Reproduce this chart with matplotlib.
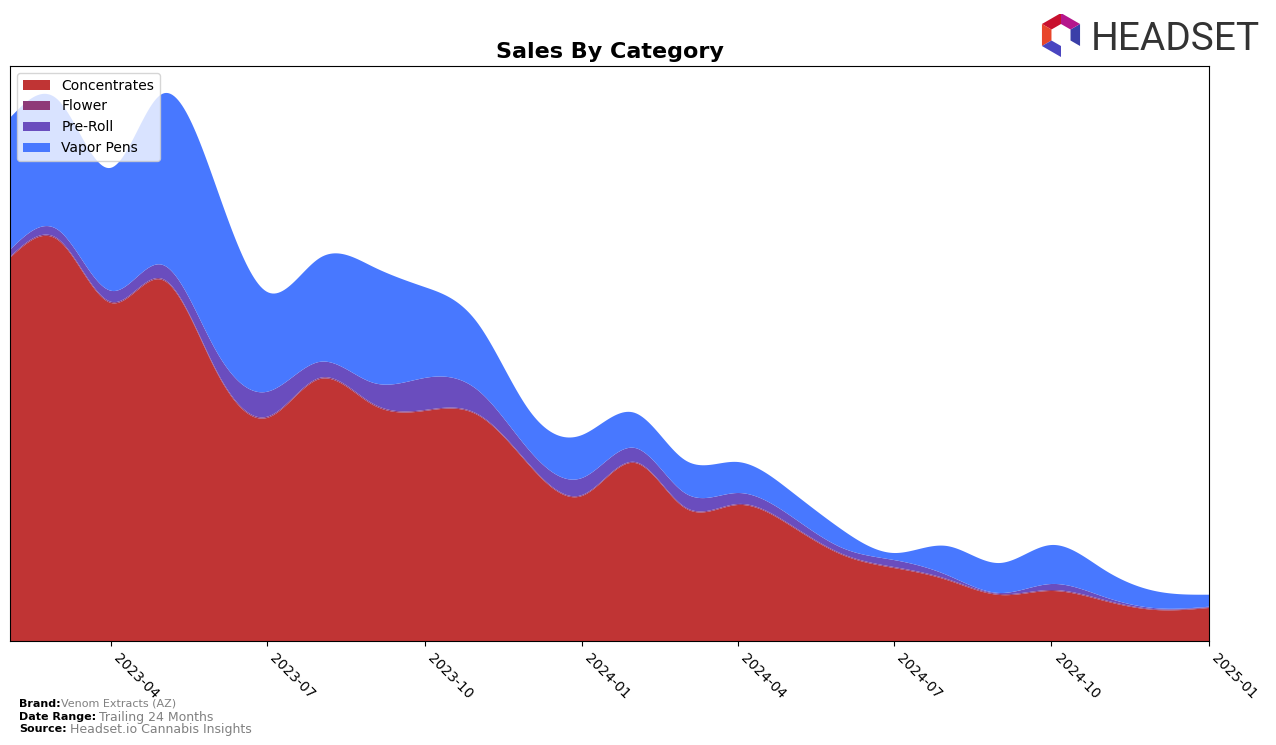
import numpy as np
import pandas as pd
import matplotlib
matplotlib.use("Agg")
import matplotlib.pyplot as plt
import matplotlib.dates as mdates
from matplotlib.patches import Polygon

months = pd.date_range("2023-02-01", "2025-01-01", freq="MS")
categories = ["Concentrates", "Flower", "Pre-Roll", "Vapor Pens"]
concentrates = [383, 401, 338, 361, 271, 223, 262, 236, 230, 226, 176, 145,
                178, 133, 136, 116, 86, 73, 61, 46, 50, 40, 31, 33]
flower = [1.2, 1.2, 1.2, 1.2, 1.2, 1.2, 1.2, 1.2, 1.0, 1.0, 1.0, 1.0,
          1.0, 1.0, 1.0, 1.0, 1.0, 1.0, 1.0, 1.0, 1.0, 1.0, 0.8, 0.8]
preroll = [7, 9, 11, 14, 19, 25, 16, 21, 32, 24, 14, 17,
           14, 14, 11, 9, 6, 7, 4, 1, 6, 3, 1, 0.5]
vapor = [132, 130, 123, 171, 165, 100, 104, 116, 91, 67, 40, 43,
         35, 33, 31, 25, 18, 7, 29, 30, 39, 27, 17, 12]
colors = ["#C03434", "#8E3A78", "#6A4DBE", "#4878FF"]
xtick_labels = ["2023-04", "2023-07", "2023-10", "2024-01", "2024-04",
                "2024-07", "2024-10", "2025-01"]


def natural_spline(x, y, xs):
    x = np.asarray(x, float)
    y = np.asarray(y, float)
    n = len(x)
    h = np.diff(x)
    A = np.zeros((n, n))
    b = np.zeros(n)
    A[0, 0] = 1
    A[-1, -1] = 1
    for i in range(1, n - 1):
        A[i, i - 1] = h[i - 1]
        A[i, i] = 2 * (h[i - 1] + h[i])
        A[i, i + 1] = h[i]
        b[i] = 3 * ((y[i + 1] - y[i]) / h[i] - (y[i] - y[i - 1]) / h[i - 1])
    c = np.linalg.solve(A, b)
    bb = (y[1:] - y[:-1]) / h - h * (2 * c[:-1] + c[1:]) / 3
    d = (c[1:] - c[:-1]) / (3 * h)
    idx = np.clip(np.searchsorted(x, xs) - 1, 0, n - 2)
    dx = xs - x[idx]
    return y[idx] + bb[idx] * dx + c[idx] * dx ** 2 + d[idx] * dx ** 3


xnum = mdates.date2num(months)
xs = np.linspace(xnum[0], xnum[-1], 600)
series = [concentrates, flower, preroll, vapor]
smooth = [np.clip(natural_spline(xnum, s, xs), 0, None) for s in series]

fig = plt.figure(figsize=(12.76, 7.45), dpi=100)
ax = fig.add_axes([10 / 1276, 1 - 641 / 745, (1209 - 10) / 1276, (641 - 66) / 745])
ax.stackplot(mdates.num2date(xs), *smooth, labels=categories, colors=colors)
ax.set_xlim(months[0], months[-1])
ax.set_ylim(0, 575)
ax.set_yticks([])
ticks = pd.to_datetime(xtick_labels)
ax.set_xticks(ticks)
ax.set_xticklabels(xtick_labels, rotation=-45, ha="left", fontsize=10)
ax.set_title("Sales By Category", fontsize=16, fontweight="bold", pad=6)
ax.legend(loc="upper left", fontsize=10, framealpha=0.8)

# footer
fig.text(19 / 1276, 1 - 704 / 745, "Brand:", fontsize=8, fontweight="bold", va="center")
fig.text(61 / 1276, 1 - 704 / 745, "Venom Extracts (AZ)", fontsize=8, color="gray", va="center")
fig.text(19 / 1276, 1 - 717 / 745, "Date Range:", fontsize=8, fontweight="bold", va="center")
fig.text(99 / 1276, 1 - 717 / 745, "Trailing 24 Months", fontsize=9, color="gray", va="center")
fig.text(19 / 1276, 1 - 729 / 745, "Source:", fontsize=8, fontweight="bold", va="center")
fig.text(70 / 1276, 1 - 729 / 745, "Headset.io Cannabis Insights", fontsize=9, color="gray", va="center")

# logo icon
lax = fig.add_axes([1036 / 1276, 1 - 62 / 745, 50 / 1276, 48 / 745])
lax.set_xlim(0, 50)
lax.set_ylim(0, 48)
lax.axis("off")
cx, cy = 25, 27
ro, ri = 22, 11
ang = np.deg2rad(np.arange(90, 450, 60))
outer_pts = [(cx + ro * np.cos(a), cy + ro * np.sin(a)) for a in ang]
inner_pts = [(cx + ri * np.cos(a), cy + ri * np.sin(a)) for a in ang]
seg_cols = ["#C8102E", "#E8452A", "#4A45C0", None, "#3A3FA8", "#B5168C"]
for i in range(6):
    if seg_cols[i] is None:
        continue
    j = (i + 1) % 6
    lax.add_patch(Polygon([outer_pts[i], outer_pts[j], inner_pts[j], inner_pts[i]],
                          closed=True, color=seg_cols[i], lw=0))
fig.text(1091 / 1276, 1 - 39 / 745, "HEADSET", fontsize=28, color="#333333", va="center",
         ha="left", family=["Roboto", "DejaVu Sans"])

fig.savefig("out.png", dpi=100)
